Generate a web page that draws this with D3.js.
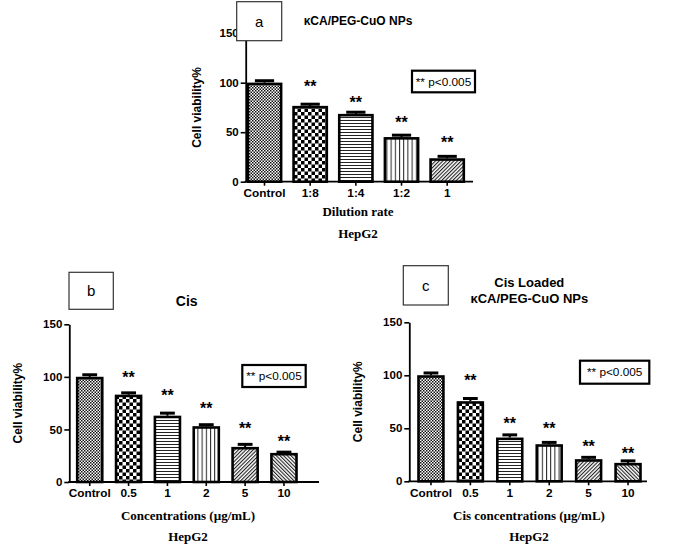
<!DOCTYPE html>
<html><head><meta charset="utf-8">
<script src="https://cdn.jsdelivr.net/npm/d3@7/dist/d3.min.js"></script>
<style>body{margin:0;background:#fff}svg{display:block}</style>
</head><body>
<svg id="chart" width="685" height="556"></svg>
<script>
// ---------- DATA ----------
const yTicks = [0, 50, 100, 150];
const catsA = ["Control", "1:8", "1:4", "1:2", "1"];
const valsA = [100, 76.5, 68.4, 45, 23.6];
const errsA = [2, 1.8, 1.8, 2, 2];
const starsA = [null, 100, 83.5, 63, 43];
const patsA = ["fineCheck", "bigCheck", "hLines", "vLines", "diagR"];

const catsB = ["Control", "0.5", "1", "2", "5", "10"];
const valsB = [100, 83, 63, 53, 33.3, 27.6];
const errsB = [2, 1.8, 2.5, 1.5, 2.5, 0.8];
const starsB = [null, 103, 86, 73, 54, 42];

const catsC = ["Control", "0.5", "1", "2", "5", "10"];
const valsC = [100, 75.5, 41.2, 34.9, 20.8, 17.3];
const errsC = [2.2, 2.6, 2.6, 1.8, 1.8, 2.0];
const starsC = [null, 98.7, 57.9, 52.8, 36, 30];
const patsBC = ["fineCheck", "bigCheck", "hLines", "vLines", "diagR", "diagL"];

const pText = "** p<0.005";

// ---------- DRAWING ----------
const svg = d3.select("#chart");
const defs = svg.append("defs");
const SANS = "'Liberation Sans', Arial, sans-serif";
const SERIF = "'Liberation Serif', 'Times New Roman', serif";

// patterns
(function(){
  let p = defs.append("pattern").attr("id","fineCheck").attr("patternUnits","userSpaceOnUse").attr("width",3).attr("height",3);
  p.append("rect").attr("width",3).attr("height",3).attr("fill","#fff");
  p.append("rect").attr("x",0).attr("y",0).attr("width",1.5).attr("height",1.5).attr("fill","#111");
  p.append("rect").attr("x",1.5).attr("y",1.5).attr("width",1.5).attr("height",1.5).attr("fill","#111");
  p = defs.append("pattern").attr("id","bigCheck").attr("patternUnits","userSpaceOnUse").attr("width",7).attr("height",7);
  p.append("rect").attr("width",7).attr("height",7).attr("fill","#fff");
  p.append("rect").attr("x",0).attr("y",0).attr("width",3.5).attr("height",3.5).attr("fill","#000");
  p.append("rect").attr("x",3.5).attr("y",3.5).attr("width",3.5).attr("height",3.5).attr("fill","#000");
  p = defs.append("pattern").attr("id","hLines").attr("patternUnits","userSpaceOnUse").attr("width",4).attr("height",3);
  p.append("rect").attr("width",4).attr("height",3).attr("fill","#fff");
  p.append("rect").attr("x",0).attr("y",0).attr("width",4).attr("height",1).attr("fill","#222");
  p = defs.append("pattern").attr("id","vLines").attr("patternUnits","userSpaceOnUse").attr("width",4.2).attr("height",4);
  p.append("rect").attr("width",4.2).attr("height",4).attr("fill","#fff");
  p.append("rect").attr("x",0).attr("y",0).attr("width",1).attr("height",4).attr("fill","#222");
  [["diagR",45],["diagL",-45]].forEach(([id,ang])=>{
    const q = defs.append("pattern").attr("id",id).attr("patternUnits","userSpaceOnUse")
      .attr("width",2.6).attr("height",4).attr("patternTransform",`rotate(${ang})`);
    q.append("rect").attr("width",2.6).attr("height",4).attr("fill","#fff");
    q.append("rect").attr("x",0).attr("y",0).attr("width",1.1).attr("height",4).attr("fill","#222");
  });
})();

function panel(cfg){
  const g = svg.append("g");
  const y = d3.scaleLinear().domain([0,150]).range([cfg.y0, cfg.yTop]);
  const x = d3.scaleBand().domain(cfg.cats).range(cfg.barRange).paddingInner(cfg.pad).paddingOuter(0);
  const bw = x.bandwidth();

  // y axis
  const ya = g.append("g").attr("transform",`translate(${cfg.axisX},0)`)
    .call(d3.axisLeft(y).tickValues(yTicks).tickSize(5).tickPadding(2).tickSizeOuter(0));
  ya.select(".domain").attr("stroke","#000").attr("stroke-width",1.8);
  ya.selectAll(".tick line").attr("stroke","#000").attr("stroke-width",1.6);
  ya.selectAll(".tick text").attr("font-family",SANS).attr("font-weight","bold").attr("font-size",11.5).attr("fill","#000");

  // x axis
  const xa = g.append("g").attr("transform",`translate(0,${cfg.y0})`)
    .call(d3.axisBottom(x).tickSize(4).tickPadding(3).tickSizeOuter(0));
  xa.select(".domain").remove();
  xa.selectAll(".tick line").attr("stroke","#000").attr("stroke-width",1.6);
  xa.selectAll(".tick text").attr("font-family",SANS).attr("font-weight","bold").attr("font-size",11.8).attr("fill","#000");
  g.append("line").attr("x1",cfg.axisX-1).attr("x2",cfg.xEnd).attr("y1",cfg.y0).attr("y2",cfg.y0)
    .attr("stroke","#000").attr("stroke-width",1.8);

  // error bars
  cfg.cats.forEach((c,i)=>{
    const cx = x(c)+bw/2;
    g.append("line").attr("x1",cx).attr("x2",cx).attr("y1",y(cfg.vals[i])).attr("y2",y(cfg.vals[i]+cfg.errs[i]))
      .attr("stroke","#000").attr("stroke-width",2);
    g.append("line").attr("x1",cx-bw*0.27).attr("x2",cx+bw*0.27)
      .attr("y1",y(cfg.vals[i]+cfg.errs[i])).attr("y2",y(cfg.vals[i]+cfg.errs[i]))
      .attr("stroke","#000").attr("stroke-width",3);
  });
  // bars
  g.selectAll("rect.bar").data(cfg.cats).enter().append("rect").attr("class","bar")
    .attr("x",d=>x(d)+1.2).attr("width",bw-2.4)
    .attr("y",(d,i)=>y(cfg.vals[i])+1.2)
    .attr("height",(d,i)=>cfg.y0-y(cfg.vals[i])-1.2)
    .attr("fill",(d,i)=>`url(#${cfg.pats[i]})`)
    .attr("stroke","#000").attr("stroke-width",2.6);
  // stars
  cfg.cats.forEach((c,i)=>{
    if(cfg.stars[i]==null) return;
    g.append("text").attr("x",x(c)+bw/2).attr("y",y(cfg.stars[i])+9)
      .attr("text-anchor","middle").attr("font-family",SANS).attr("font-weight","bold").attr("font-size",16)
      .text("**");
  });

  // y label
  g.append("text").attr("transform",`translate(${cfg.ylabX},${(cfg.y0+cfg.yTop)/2}) rotate(-90)`)
    .attr("text-anchor","middle").attr("dominant-baseline","central")
    .attr("font-family",SANS).attr("font-weight","bold").attr("font-size",12).text("Cell viability%");

  // x label and cell line
  g.append("text").attr("x",cfg.xlabX).attr("y",cfg.xlabY).attr("text-anchor","middle")
    .attr("font-family",SERIF).attr("font-weight","bold").attr("font-size",13).text(cfg.xlab);
  g.append("text").attr("x",cfg.xlabX).attr("y",cfg.cellY).attr("text-anchor","middle")
    .attr("font-family",SERIF).attr("font-weight","bold").attr("font-size",13).text("HepG2");

  // title
  cfg.title.forEach((t,k)=>{
    g.append("text").attr("x",cfg.titleX).attr("y",cfg.titleY + k*cfg.titleLH).attr("text-anchor","middle")
      .attr("font-family",SANS).attr("font-weight","bold").attr("font-size",cfg.titleFS).text(t);
  });

  // p box
  const pb = cfg.pbox;
  g.append("rect").attr("x",pb[0]).attr("y",pb[1]).attr("width",pb[2]).attr("height",pb[3])
    .attr("fill","#fff").attr("stroke","#000").attr("stroke-width",2.2);
  g.append("text").attr("x",pb[0]+pb[2]/2).attr("y",pb[1]+pb[3]/2).attr("text-anchor","middle")
    .attr("dominant-baseline","central").attr("font-family",SANS).attr("font-size",11.8).text(pText);

  // letter box
  const lb = cfg.lbox;
  g.append("rect").attr("x",lb[0]).attr("y",lb[1]).attr("width",lb[2]).attr("height",lb[3])
    .attr("fill","#fff").attr("stroke","#333").attr("stroke-width",1.2);
  g.append("text").attr("x",lb[0]+lb[2]/2).attr("y",lb[1]+lb[3]/2).attr("text-anchor","middle")
    .attr("dominant-baseline","central").attr("font-family",SANS).attr("font-size",15).text(cfg.letter);
}

panel({cats:catsA, vals:valsA, errs:errsA, stars:starsA, pats:patsA,
  axisX:245.7, y0:181.7, yTop:33.2, barRange:[246.7,465], pad:0.22, xEnd:473,
  ylabX:197, xlab:"Dilution rate", xlabX:358, xlabY:215.5, cellY:237.5,
  title:["κCA/PEG-CuO NPs"], titleX:358, titleY:24.5, titleLH:0, titleFS:12,
  pbox:[412,70.7,63,21.6], lbox:[236.7,1.7,45,39], letter:"a"});

panel({cats:catsB, vals:valsB, errs:errsB, stars:starsB, pats:patsBC,
  axisX:69.3, y0:482, yTop:324.3, barRange:[76,297.7], pad:0.293, xEnd:319,
  ylabX:18, xlab:"Concentrations (µg/mL)", xlabX:188, xlabY:520, cellY:541,
  title:["Cis"], titleX:186.7, titleY:305.5, titleLH:0, titleFS:14,
  pbox:[242.3,365,63.4,22], lbox:[69,272.3,44.3,37], letter:"b"});

panel({cats:catsC, vals:valsC, errs:errsC, stars:starsC, pats:patsBC,
  axisX:409.3, y0:481.3, yTop:322.3, barRange:[417.3,641.7], pad:0.307, xEnd:647,
  ylabX:358.3, xlab:"Cis concentrations (µg/mL)", xlabX:529, xlabY:519.5, cellY:541,
  title:["Cis Loaded","κCA/PEG-CuO NPs"], titleX:529.3, titleY:286.5, titleLH:16.7, titleFS:13,
  pbox:[580,360.7,69.3,23], lbox:[403.3,265.7,45,39.3], letter:"c"});
</script>
</body></html>
